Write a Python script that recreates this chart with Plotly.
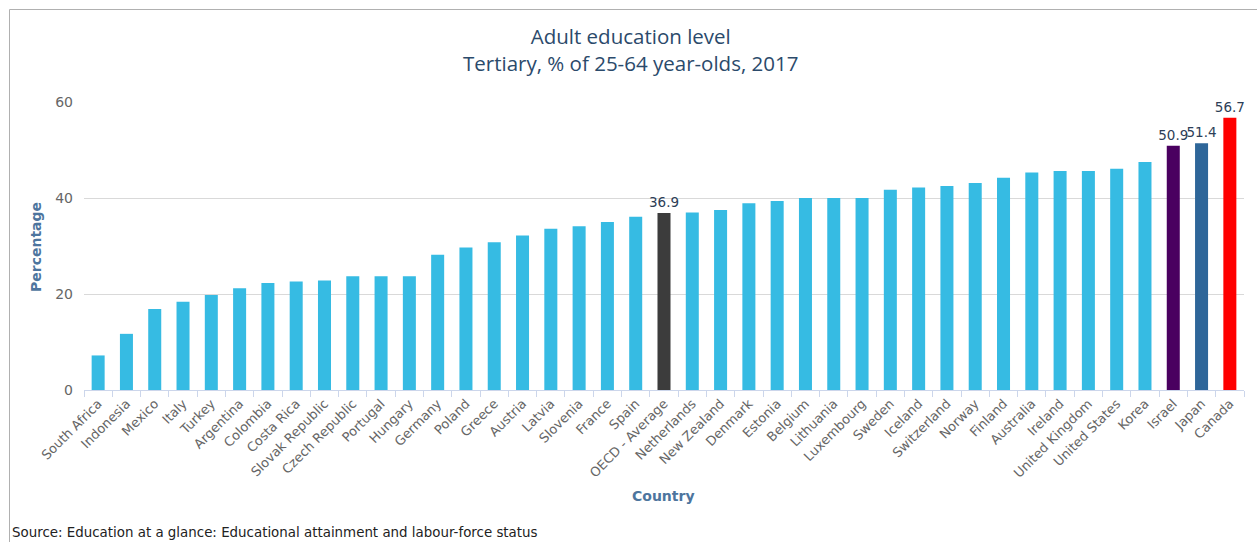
import plotly.graph_objects as go

countries = ["South Africa", "Indonesia", "Mexico", "Italy", "Turkey", "Argentina", "Colombia",
             "Costa Rica", "Slovak Republic", "Czech Republic", "Portugal", "Hungary", "Germany",
             "Poland", "Greece", "Austria", "Latvia", "Slovenia", "France", "Spain", "OECD - Average",
             "Netherlands", "New Zealand", "Denmark", "Estonia", "Belgium", "Lithuania", "Luxembourg",
             "Sweden", "Iceland", "Switzerland", "Norway", "Finland", "Australia", "Ireland",
             "United Kingdom", "United States", "Korea", "Israel", "Japan", "Canada"]
values = [7.2, 11.7, 16.9, 18.4, 19.8, 21.2, 22.3, 22.6, 22.8, 23.7, 23.7, 23.7, 28.2,
          29.7, 30.8, 32.2, 33.6, 34.1, 35.0, 36.1, 36.9,
          37.0, 37.5, 38.9, 39.4, 40.0, 40.0, 40.0,
          41.7, 42.2, 42.5, 43.1, 44.2, 45.3, 45.6,
          45.6, 46.1, 47.5, 50.9, 51.4, 56.7]
highlight_colors = {"OECD - Average": "#3c3c3c", "Israel": "#4a0060", "Japan": "#2e6699", "Canada": "#ff0000"}
labelled = ["OECD - Average", "Israel", "Japan", "Canada"]
base_color = "#36bbe3"

colors = [highlight_colors.get(c, base_color) for c in countries]
texts = [f"{v:.1f}" if c in labelled else "" for c, v in zip(countries, values)]

W, H = 1257, 542
L, R, T, B = 84, 13, 102, 152
pw, ph = W - L - R, H - T - B

def px_x(x):
    return (x - L) / pw

def px_y(y):
    return (H - B - y) / ph

fig = go.Figure(go.Bar(
    x=countries, y=values, marker=dict(color=colors, line=dict(width=0)),
    text=texts, textposition="outside", constraintext="none", cliponaxis=False,
    textfont=dict(family="DejaVu Sans", size=13.5, color="#2d3e57"),
    hoverinfo="x+y",
))

fig.update_layout(
    width=W, height=H,
    margin=dict(l=L, r=R, t=T, b=B),
    paper_bgcolor="white", plot_bgcolor="white",
    bargap=0.54,
    showlegend=False,
    font=dict(family="DejaVu Sans", color="#666666"),
    xaxis=dict(
        type="category", tickangle=-45, showgrid=False,
        showline=True, linecolor="#ccd6eb", linewidth=1,
        ticks="outside", tickson="boundaries", ticklen=6, tickcolor="#ccd6eb",
        tickfont=dict(family="DejaVu Sans", size=13, color="#666666"),
        range=[-0.5, len(countries) - 0.5],
    ),
    yaxis=dict(
        range=[0, 60], tickvals=[0, 20, 40, 60], showgrid=True, gridcolor="#d9d9d9",
        gridwidth=1, zeroline=False, showline=False,
        tickfont=dict(family="DejaVu Sans", size=14, color="#666666"),
        ticklabelstandoff=10,
    ),
    annotations=[
        dict(text="Adult education level<br>Tertiary, % of 25-64 year-olds, 2017",
             x=px_x(630), y=px_y(50), xref="paper", yref="paper",
             showarrow=False, font=dict(family="Open Sans", size=20.5, color="#2b4a6b"),
             xanchor="center", yanchor="middle", align="center"),
        dict(text="<b>Percentage</b>", x=px_x(36), y=px_y(247), xref="paper", yref="paper",
             showarrow=False, textangle=-90, font=dict(family="DejaVu Sans", size=14, color="#4d759e"),
             xanchor="center", yanchor="middle"),
        dict(text="<b>Country</b>", x=px_x(663), y=px_y(496), xref="paper", yref="paper",
             showarrow=False, font=dict(family="DejaVu Sans", size=14, color="#4d759e"),
             xanchor="center", yanchor="middle"),
        dict(text="Source: Education at a glance: Educational attainment and labour-force status",
             x=px_x(10), y=px_y(532), xref="paper", yref="paper",
             showarrow=False, font=dict(family="DejaVu Sans", size=13.4, color="#222222"),
             xanchor="left", yanchor="middle"),
    ],
    shapes=[
        dict(type="line", xref="paper", yref="paper", x0=px_x(9.5), x1=px_x(W), y0=px_y(9.5), y1=px_y(9.5),
             line=dict(color="#b0b0b0", width=1)),
        dict(type="line", xref="paper", yref="paper", x0=px_x(9.5), x1=px_x(9.5), y0=px_y(9.5), y1=px_y(H),
             line=dict(color="#b0b0b0", width=1)),
    ],
)

fig.write_html("out.html")
